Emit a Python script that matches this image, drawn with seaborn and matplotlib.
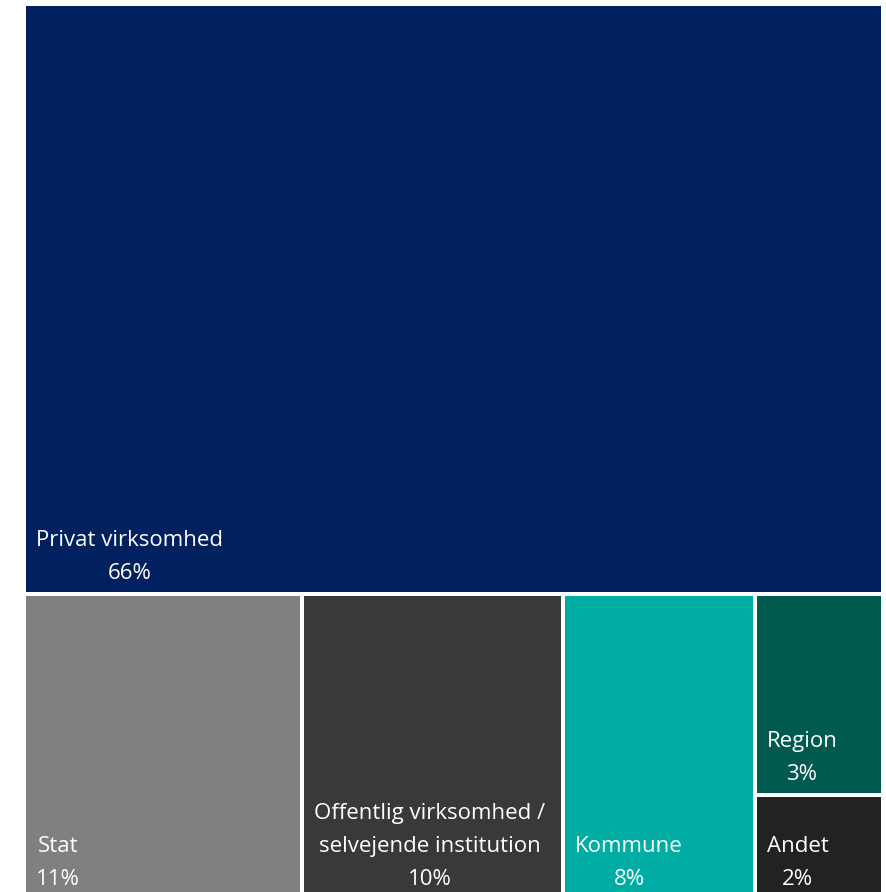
import matplotlib
matplotlib.use("Agg")
import matplotlib.pyplot as plt
import matplotlib.patches as mpatches
import matplotlib.transforms as mtransforms
import seaborn as sns
import pandas as pd

# ---- data ----
categories = ["Privat virksomhed", "Stat", "Offentlig virksomhed /\nselvejende institution",
              "Kommune", "Region", "Andet"]
values = [65.9, 11.05, 10.35, 7.6, 3.35, 1.75]
pct_labels = ["66%", "11%", "10%", "8%", "3%", "2%"]
colors = ["#002060", "#808080", "#393939", "#00ADA5", "#005A50", "#222222"]

df = pd.DataFrame({"cat": categories, "value": values, "label": pct_labels, "color": colors})

sns.set_theme(style="white")
plt.rcParams["font.family"] = ["Open Sans", "DejaVu Sans"]

W, H = 887, 892
fig = plt.figure(figsize=(W / 100, H / 100), dpi=100)
# axes in pixels: x 24..883, y(top) 4 .. 900
left, right, top, bottom = 24, 883, 4, 900
ax = fig.add_axes([left / W, 1 - bottom / H, (right - left) / W, (bottom - top) / H])
ax.set_xlim(0, 1)
ax.set_ylim(0, 1)
ax.axis("off")

total = df["value"].sum()
v = df["value"].tolist()

# layout: top row = first item; bottom row = columns; last column split in two
rects = []
h_top = v[0] / total
rects.append((0, 1 - h_top, 1, h_top))
rest = total - v[0]
h_bot = 1 - h_top
x = 0
cols = [[1], [2], [3], [4, 5]]
for col in cols:
    cv = sum(v[i] for i in col)
    w = cv / rest
    y = h_bot
    for i in col:
        hh = v[i] / cv * h_bot
        rects.append((x, y - hh, w, hh))
        y -= hh
    x += w

lw = 4 * 72 / 100
for (rx, ry, rw, rh), c in zip(rects, df["color"]):
    ax.add_patch(mpatches.Rectangle((rx, ry), rw, rh, facecolor=c,
                                    edgecolor="white", linewidth=lw))

for (rx, ry, rw, rh), cat, lab in zip(rects, df["cat"], df["label"]):
    trans = ax.transData + mtransforms.ScaledTranslation(12 / 100, 10 / 100, fig.dpi_scale_trans)
    ax.text(rx, ry, f"{cat}\n{lab}", transform=trans, ha="left", va="bottom",
            multialignment="center", color="white", fontsize=16, linespacing=1.75)

fig.savefig("out.png", dpi=100)
